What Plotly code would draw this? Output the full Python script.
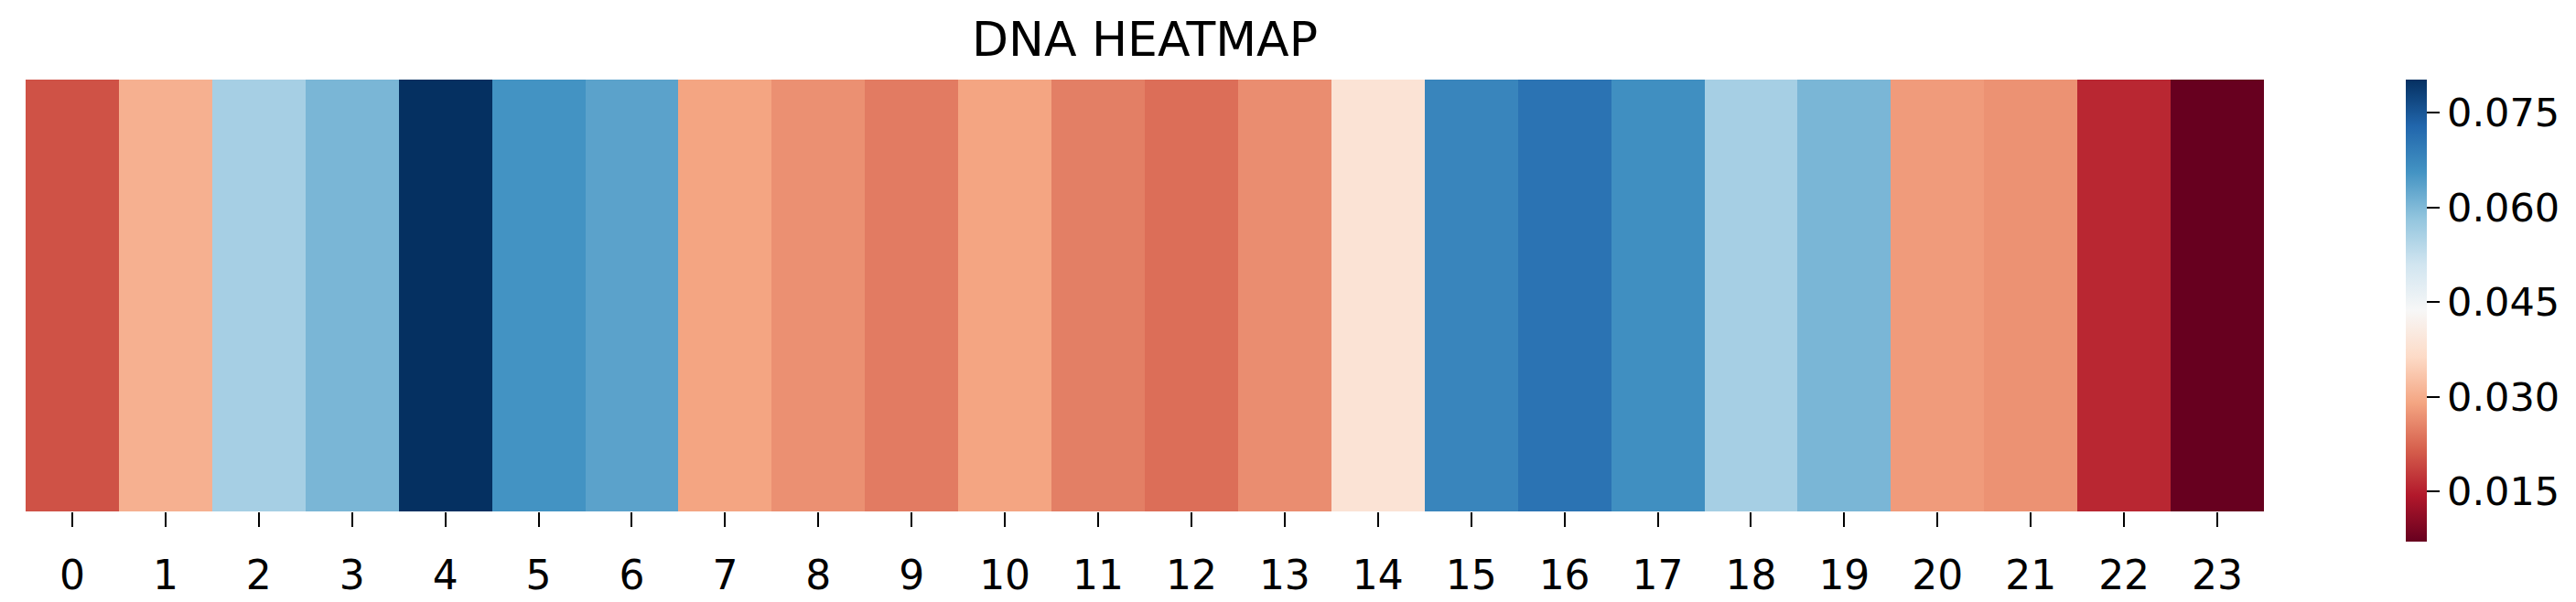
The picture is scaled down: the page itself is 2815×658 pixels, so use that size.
import plotly.graph_objects as go

positions = [str(i) for i in range(24)]
values = [0.0203, 0.0305, 0.0560, 0.0605, 0.0802, 0.0656, 0.0634, 0.0290,
          0.0268, 0.0246, 0.0290, 0.0250, 0.0232, 0.0265, 0.0385, 0.0678,
          0.0707, 0.0663, 0.0560, 0.0605, 0.0280, 0.0270, 0.0159, 0.0071]
cbar_ticks = [0.015, 0.030, 0.045, 0.060, 0.075]

rdbu = ["#67001f", "#b2182b", "#d6604d", "#f4a582", "#fddbc7", "#f7f7f7",
        "#d1e5f0", "#92c5de", "#4393c3", "#2166ac", "#053061"]
colorscale = [[i / 10, c] for i, c in enumerate(rdbu)]

font = "DejaVu Sans"

fig = go.Figure(go.Heatmap(
    z=[values],
    x=positions,
    y=[""],
    colorscale=colorscale,
    colorbar=dict(
        thickness=23, thicknessmode="pixels",
        len=505, lenmode="pixels",
        x=1.0634, xanchor="left", xref="paper", xpad=0, ypad=0,
        y=1.0, yanchor="top",
        outlinewidth=0,
        tickvals=cbar_ticks, tickformat=".3f",
        ticks="outside", ticklen=14, tickwidth=2, tickcolor="black",
        tickfont=dict(family=font, size=43, color="black"),
    ),
))

fig.update_layout(
    width=2815, height=658,
    margin=dict(l=20, r=349, t=79, b=74),
    paper_bgcolor="white", plot_bgcolor="white",
    title=dict(text="DNA HEATMAP", x=0.5, xref="paper", xanchor="center",
               y=1 - 35 / 658, yref="container", yanchor="middle",
               font=dict(family=font, size=52, color="black")),
    xaxis=dict(type="category", showgrid=False, zeroline=False, showline=False,
               ticks="outside", ticklen=16, tickwidth=2, tickcolor="black",
               ticklabelstandoff=15,
               tickfont=dict(family=font, size=44, color="black")),
    yaxis=dict(showticklabels=False, showgrid=False, zeroline=False, ticks=""),
)

fig.write_html("out.html")
